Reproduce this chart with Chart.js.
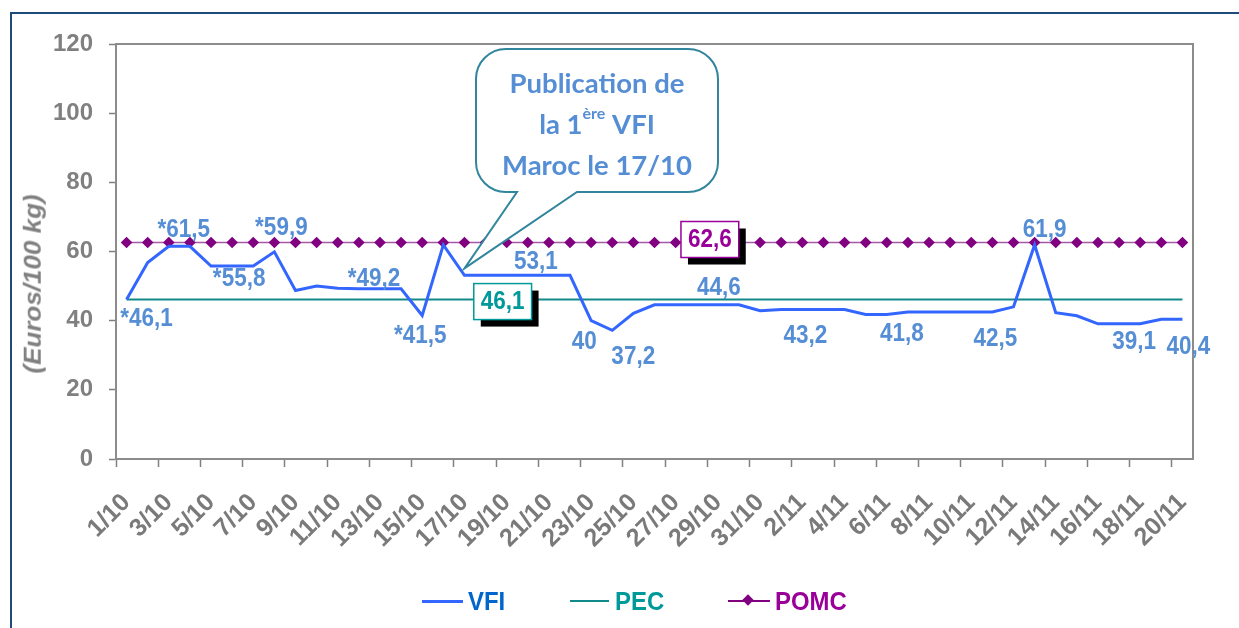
<!DOCTYPE html>
<html>
<head>
<meta charset="utf-8">
<script src="https://cdn.jsdelivr.net/npm/chart.js@4.4.0/dist/chart.umd.min.js"></script>
<style>
  html, body { margin: 0; padding: 0; background: #fff; }
  #wrap { position: relative; width: 1239px; height: 628px; overflow: hidden; }
  #frame { position: absolute; left: 10px; top: 12px; width: 1300px; height: 700px;
           border-top: 2px solid #1F4A7C; border-left: 2px solid #1F4A7C; }
  #chart { position: absolute; left: 0; top: 0; }
  #ytitle { position: absolute; left: 33px; top: 284px; transform: translate(-50%, -50%) rotate(-90deg) scaleY(0.92);
            font: italic bold 26px "Liberation Sans", Arial, sans-serif; color: #808080; white-space: nowrap; }
  .lg { position: absolute; top: 586px; height: 30px; font: bold 26px "Liberation Sans", Arial, sans-serif;
        line-height: 30px; white-space: nowrap; }
  .lg .ln { position: absolute; top: 14px; }
  .lg .tx { position: absolute; top: 0; transform: scaleX(0.92); transform-origin: left center; }
  .dia { position: absolute; width: 8px; height: 8px; background: #800080; transform: rotate(45deg); top: 10px; }
</style>
</head>
<body>
<div id="wrap">
  <div id="frame"></div>
  <canvas id="chart" width="1239" height="628"></canvas>
  <div id="ytitle">(Euros/100 kg)</div>
  <div class="lg" style="left:422px">
    <span class="ln" style="left:0;width:41px;height:3px;background:#3366FF"></span>
    <span class="tx" style="left:46px;color:#0066CC">VFI</span>
  </div>
  <div class="lg" style="left:570px">
    <span class="ln" style="left:0;width:39px;height:2px;background:#12898A"></span>
    <span class="tx" style="left:45px;color:#009999">PEC</span>
  </div>
  <div class="lg" style="left:728px">
    <span class="ln" style="left:0;width:42px;height:2px;background:#800080"></span>
    <span class="dia" style="left:16px"></span>
    <span class="tx" style="left:47px;color:#990099">POMC</span>
  </div>
</div>
<script>
// Days (1 Oct - 20 Nov)
const days = [
  '1/10', '2/10', '3/10', '4/10', '5/10', '6/10', '7/10', '8/10', '9/10', '10/10',
  '11/10', '12/10', '13/10', '14/10', '15/10', '16/10', '17/10', '18/10', '19/10', '20/10',
  '21/10', '22/10', '23/10', '24/10', '25/10', '26/10', '27/10', '28/10', '29/10', '30/10',
  '31/10', '1/11', '2/11', '3/11', '4/11', '5/11', '6/11', '7/11', '8/11', '9/11',
  '10/11', '11/11', '12/11', '13/11', '14/11', '15/11', '16/11', '17/11', '18/11', '19/11',
  '20/11'
];

// Series values (Euros/100 kg)
const vfiValues = [
  46.1, 56.8, 61.5, 61.5, 55.8, 55.8, 55.8, 59.9, 48.7, 50.0,
  49.4, 49.2, 49.2, 49.2, 41.5, 61.9, 53.1, 53.1, 53.1, 53.1,
  53.1, 53.1, 40, 37.2, 42.1, 44.6, 44.6, 44.6, 44.6, 44.6,
  42.9, 43.2, 43.2, 43.2, 43.2, 41.8, 41.8, 42.5, 42.5, 42.5,
  42.5, 42.5, 44.0, 61.9, 42.3, 41.4, 39.1, 39.1, 39.1, 40.4,
  40.4
];
const pecValues = [
  46.1, 46.1, 46.1, 46.1, 46.1, 46.1, 46.1, 46.1, 46.1, 46.1,
  46.1, 46.1, 46.1, 46.1, 46.1, 46.1, 46.1, 46.1, 46.1, 46.1,
  46.1, 46.1, 46.1, 46.1, 46.1, 46.1, 46.1, 46.1, 46.1, 46.1,
  46.1, 46.1, 46.1, 46.1, 46.1, 46.1, 46.1, 46.1, 46.1, 46.1,
  46.1, 46.1, 46.1, 46.1, 46.1, 46.1, 46.1, 46.1, 46.1, 46.1,
  46.1
];
const pomcValues = [
  62.6, 62.6, 62.6, 62.6, 62.6, 62.6, 62.6, 62.6, 62.6, 62.6,
  62.6, 62.6, 62.6, 62.6, 62.6, 62.6, 62.6, 62.6, 62.6, 62.6,
  62.6, 62.6, 62.6, 62.6, 62.6, 62.6, 62.6, 62.6, 62.6, 62.6,
  62.6, 62.6, 62.6, 62.6, 62.6, 62.6, 62.6, 62.6, 62.6, 62.6,
  62.6, 62.6, 62.6, 62.6, 62.6, 62.6, 62.6, 62.6, 62.6, 62.6,
  62.6
];

// Which VFI points carry a label (before 17/10 the values are marked with *)
const vfiLabelIndex = [0, 2, 5, 7, 12, 14, 19, 22, 23, 28, 32, 36, 41, 43, 47, 50];
const publicationIndex = 16;
// label offsets from their point (px)
const vfiLabelOffset = [
  [20, 20], [15, -16], [7, 13], [7, -24], [-6, -10], [-2, 21], [8, -13], [-7, 21],
  [21, 27], [1, -17], [3, 27], [15, 20], [3, 27], [10, -15], [15, 18], [6, 28]
];
const pecLabelIndex = 18;
const pomcLabelIndex = 28;

const labelFont = 'bold 25px "Liberation Sans", Arial, sans-serif';
const labelSqueeze = 0.9;
const axisFont = { family: '"Liberation Sans", Arial, sans-serif', weight: 'bold' };

function formatValue(v, star) {
  return (star ? '*' : '') + String(v).replace('.', ',');
}

// draw text a little condensed, like Arial Narrow in the original
function narrowText(ctx, text, x, y) {
  ctx.save();
  ctx.translate(x, y);
  ctx.scale(labelSqueeze, 1);
  ctx.fillText(text, 0, 0);
  ctx.restore();
}

// Plot area border (top and right sides like Excel)
const framePlugin = {
  id: 'plotFrame',
  beforeDatasetsDraw(chart) {
    const { ctx, chartArea: a } = chart;
    ctx.save();
    ctx.strokeStyle = '#8C8C8C';
    ctx.lineWidth = 2;
    ctx.strokeRect(a.left, a.top, a.right - a.left, a.bottom - a.top);
    ctx.restore();
  }
};

function drawBoxLabel(ctx, pt, text, color, dx, dy) {
  ctx.font = labelFont;
  const w = ctx.measureText(text).width * labelSqueeze + 14;
  const h = 36;
  const cx = pt.x + dx, cy = pt.y + dy;
  ctx.fillStyle = '#000';
  ctx.fillRect(cx - w / 2 + 7, cy - h / 2 + 7, w, h);
  ctx.fillStyle = '#fff';
  ctx.fillRect(cx - w / 2, cy - h / 2, w, h);
  ctx.strokeStyle = color;
  ctx.lineWidth = 1.5;
  ctx.strokeRect(cx - w / 2, cy - h / 2, w, h);
  ctx.fillStyle = color;
  ctx.textAlign = 'center';
  ctx.textBaseline = 'middle';
  narrowText(ctx, text, cx, cy + 1);
}

function drawCallout(chart) {
  const { ctx, scales } = chart;
  const tipX = scales.x.getPixelForValue(publicationIndex);
  const tipY = scales.y.getPixelForValue(55.1);
  const l = 476, t = 49, r = 718, b = 192, rad = 30;
  ctx.save();
  ctx.beginPath();
  ctx.moveTo(l + rad, t);
  ctx.lineTo(r - rad, t);
  ctx.arcTo(r, t, r, t + rad, rad);
  ctx.lineTo(r, b - rad);
  ctx.arcTo(r, b, r - rad, b, rad);
  ctx.lineTo(577, b);
  ctx.lineTo(tipX, tipY);
  ctx.lineTo(517, b);
  ctx.lineTo(l + rad, b);
  ctx.arcTo(l, b, l, b - rad, rad);
  ctx.lineTo(l, t + rad);
  ctx.arcTo(l, t, l + rad, t, rad);
  ctx.closePath();
  ctx.fillStyle = '#fff';
  ctx.fill();
  ctx.strokeStyle = '#31859C';
  ctx.lineWidth = 2;
  ctx.stroke();

  const cx = (l + r) / 2;
  const big = 'bold 27.5px Lato, "Open Sans", sans-serif';
  const small = 'bold 16px Lato, "Open Sans", sans-serif';
  ctx.fillStyle = '#558ED5';
  ctx.textBaseline = 'middle';
  ctx.textAlign = 'center';
  ctx.font = big;
  ctx.fillText('Publication de', cx, 84);
  ctx.fillText('Maroc le 17/10', cx, 166);
  // second line with superscript
  ctx.textAlign = 'left';
  const w1 = ctx.measureText('la 1').width;
  const w3 = ctx.measureText(' VFI').width;
  ctx.font = small;
  const w2 = ctx.measureText('ère').width;
  let x = cx - (w1 + w2 + w3) / 2;
  ctx.font = big;
  ctx.fillText('la 1', x, 125);
  ctx.font = small;
  ctx.fillText('ère', x + w1, 114);
  ctx.font = big;
  ctx.fillText(' VFI', x + w1 + w2, 125);
  ctx.restore();
}

const labelPlugin = {
  id: 'valueLabels',
  afterDatasetsDraw(chart) {
    const ctx = chart.ctx;
    const vfiMeta = chart.getDatasetMeta(0);
    ctx.save();
    ctx.font = labelFont;
    ctx.fillStyle = '#558ED5';
    ctx.textAlign = 'center';
    ctx.textBaseline = 'middle';
    vfiLabelIndex.forEach((idx, k) => {
      const pt = vfiMeta.data[idx];
      const off = vfiLabelOffset[k];
      narrowText(ctx, formatValue(vfiValues[idx], idx < publicationIndex), pt.x + off[0], pt.y + off[1]);
    });
    drawBoxLabel(ctx, chart.getDatasetMeta(1).data[pecLabelIndex], formatValue(pecValues[pecLabelIndex]), '#009999', -4, 2);
    drawBoxLabel(ctx, chart.getDatasetMeta(2).data[pomcLabelIndex], formatValue(pomcValues[pomcLabelIndex]), '#990099', -8, -3);
    ctx.restore();
    drawCallout(chart);
  }
};

const chartCtx = document.getElementById('chart').getContext('2d');
new Chart(chartCtx, {
  type: 'line',
  data: {
    labels: days,
    datasets: [
      {
        label: 'VFI', data: vfiValues, borderColor: '#3366FF', backgroundColor: '#3366FF',
        borderWidth: 3, pointRadius: 0, tension: 0
      },
      {
        label: 'PEC', data: pecValues, borderColor: '#12898A', backgroundColor: '#12898A',
        borderWidth: 2, pointRadius: 0
      },
      {
        label: 'POMC', data: pomcValues, borderColor: '#A45AA4', backgroundColor: '#800080',
        borderWidth: 1.5, pointStyle: 'rectRot', pointRadius: 5.8,
        pointBackgroundColor: '#800080', pointBorderColor: '#800080', pointBorderWidth: 0
      }
    ]
  },
  options: {
    responsive: false,
    animation: false,
    layout: { padding: { left: 0, top: 44, right: 46, bottom: 0 } },
    plugins: { legend: { display: false }, tooltip: { enabled: false } },
    scales: {
      x: {
        offset: true,
        grid: {
          offset: true, drawOnChartArea: false, tickLength: 8, tickWidth: 1.5,
          tickColor: c => (c.index % 2 === 0 ? '#808080' : 'rgba(0,0,0,0)')
        },
        border: { color: '#808080', width: 2 },
        ticks: {
          autoSkip: false, maxRotation: 45, minRotation: 45, padding: 21,
          color: '#7A7A7A', font: { ...axisFont, size: 25 },
          callback: (v, i) => (i % 2 === 0 ? days[i] : '')
        },
        afterFit: s => { s.height = 628 - 459; }
      },
      y: {
        min: 0, max: 120,
        grid: { drawOnChartArea: false, tickLength: 7, tickWidth: 1.5, tickColor: '#808080' },
        border: { color: '#808080', width: 2 },
        ticks: { stepSize: 20, padding: 16, color: '#808080', font: { ...axisFont, size: 24 } },
        afterFit: s => { s.width = 116; }
      }
    }
  },
  plugins: [framePlugin, labelPlugin]
});
</script>
</body>
</html>
